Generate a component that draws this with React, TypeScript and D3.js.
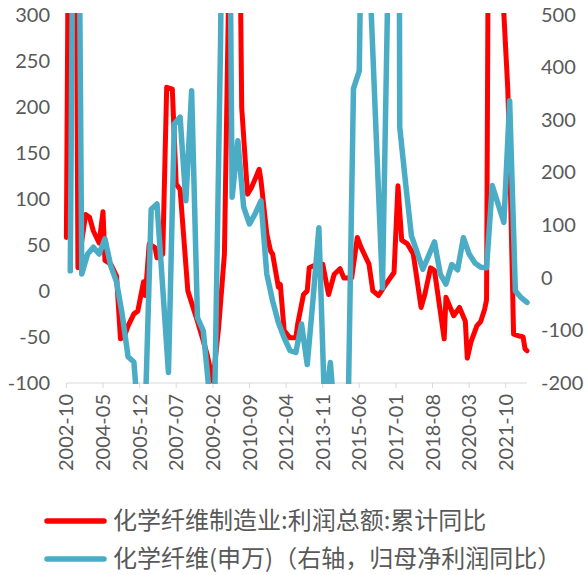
import React from 'react';
import * as d3 from 'd3';

// 化学纤维制造业:利润总额:累计同比 (left axis, %)
const redMonths = [
  '2002-10', '2002-11', '2003-03', '2003-04', '2003-08', '2003-10', '2003-12', '2004-03', '2004-05', '2004-06',
  '2004-09', '2004-12', '2005-02', '2005-04', '2005-06', '2005-09', '2005-11', '2006-02', '2006-03', '2006-05',
  '2006-08', '2006-09', '2006-12', '2007-02', '2007-05', '2007-07', '2007-09', '2008-01', '2008-06', '2008-08',
  '2008-11', '2009-02', '2009-05', '2009-08', '2009-10', '2009-11', '2010-03', '2010-05', '2010-08', '2010-10',
  '2011-02', '2011-03', '2011-06', '2011-08', '2011-09', '2011-12', '2012-01', '2012-03', '2012-06', '2012-09',
  '2012-10', '2013-01', '2013-03', '2013-04', '2013-06', '2013-11', '2014-02', '2014-05', '2014-08', '2014-10',
  '2015-02', '2015-05', '2015-07', '2015-11', '2016-01', '2016-04', '2016-08', '2016-12', '2017-02', '2017-04',
  '2017-07', '2017-10', '2018-02', '2018-04', '2018-07', '2018-09', '2019-02', '2019-03', '2019-07', '2019-10',
  '2020-01', '2020-02', '2020-04', '2020-07', '2020-09', '2020-11', '2020-12', '2021-02', '2021-07', '2021-09',
  '2021-11', '2021-12', '2022-02', '2022-05', '2022-07', '2022-08', '2022-09',
];
const redValues = [
  58, 400, 450, 25, 83, 80, 65, 52, 86, 33,
  29, 16, -52, -50, -38, -25, -22, 10, -5, 51,
  47, 36, 40, 221, 219, 116, 110, 0, -33, -47,
  -69, -98, -40, 40, 300, 450, 600, 199, 105, 112,
  132, 120, 62, 43, 40, 4, 7, -43, -51, -51,
  -36, -4, 0, 25, 27, 29, -4, 18, 24, 14,
  14, 58, 47, 29, 0, -5, 8, 20, 114, 55,
  51, 40, -18, -4, 25, 22, -52, -7, -27, -18,
  -33, -73, -55, -38, -33, -20, -10, 900, 600, 300,
  220, 150, -47, -49, -50, -63, -65,
];

// 化学纤维(申万) 归母净利润同比 (right axis, %)
const blueMonths = [
  '2002-12', '2003-03', '2003-06', '2003-09', '2003-12', '2004-03', '2004-06', '2004-09', '2004-12', '2005-03',
  '2005-06', '2005-09', '2005-12', '2006-03', '2006-06', '2006-09', '2006-12', '2007-03', '2007-06', '2007-09',
  '2007-12', '2008-03', '2008-06', '2008-09', '2008-12', '2009-03', '2009-06', '2009-09', '2009-12', '2010-03',
  '2010-06', '2010-09', '2010-12', '2011-03', '2011-06', '2011-09', '2011-12', '2012-03', '2012-06', '2012-09',
  '2012-12', '2013-03', '2013-06', '2013-09', '2013-12', '2014-03', '2014-06', '2014-09', '2014-12', '2015-03',
  '2015-06', '2015-09', '2015-12', '2016-03', '2016-06', '2016-09', '2016-12', '2017-03', '2017-06', '2017-09',
  '2017-12', '2018-03', '2018-06', '2018-09', '2018-12', '2019-03', '2019-06', '2019-09', '2019-12', '2020-03',
  '2020-06', '2020-09', '2020-12', '2021-03', '2021-06', '2021-09', '2021-12', '2022-03', '2022-06', '2022-09',
];
const blueValues = [
  13, 1500, 7, 45, 58, 45, 74, 22, -8, -70,
  -150, -160, -300, -250, 130, 140, -20, -180, 292, 305,
  146, 355, -76, -101, -215, -230, 450, 1500, 153, 260,
  134, 102, 122, 146, 7, -44, -85, -114, -138, -142,
  -88, -165, -40, 95, -250, -161, -300, -300, -300, 359,
  393, 1200, 520, 250, -19, 600, 5000, 286, 180, 80,
  48, 16, 42, 68, 7, -12, 25, 15, 76, 45,
  28, 20, 19, 175, 140, 105, 336, -25, -38, -47,
];

const xTickLabels = [
  '2002-10', '2004-05', '2005-12', '2007-07', '2009-02', '2010-09', '2012-04',
  '2013-11', '2015-06', '2017-01', '2018-08', '2020-03', '2021-10',
];
const leftTicks = [-100, -50, 0, 50, 100, 150, 200, 250, 300];
const rightTicks = [-200, -100, 0, 100, 200, 300, 400, 500];

const legendLabels = [
  '化学纤维制造业:利润总额:累计同比',
  '化学纤维(申万)（右轴，归母净利润同比）',
];

const RED = '#ff0000';
const BLUE = '#4bacc6';
const TEXT = '#595959';

const W = 588;
const H = 575;
const plot = {left: 66.4, right: 527, top: 14.5, bottom: 383};

const parseMonth = d3.utcParse('%Y-%m');

type Pt = {date: Date; value: number};

const toPoints = (months: string[], values: number[]): Pt[] =>
  months.map((m, i) => ({date: parseMonth(m) as Date, value: values[i]}));

export default function App() {
  const x = d3
    .scaleUtc()
    .domain([parseMonth('2002-10') as Date, parseMonth('2022-09') as Date])
    .range([plot.left, plot.right]);
  const yLeft = d3.scaleLinear().domain([-100, 300]).range([plot.bottom, plot.top]);
  const yRight = d3.scaleLinear().domain([-200, 500]).range([plot.bottom, plot.top]);

  const redLine = d3
    .line<Pt>()
    .x(d => x(d.date))
    .y(d => yLeft(d.value));
  const blueLine = d3
    .line<Pt>()
    .x(d => x(d.date))
    .y(d => yRight(d.value));

  const redPts = toPoints(redMonths, redValues);
  const bluePts = toPoints(blueMonths, blueValues);

  const labelFont = 'Lato, "Open Sans", sans-serif';
  const cjkFont = '"Noto Sans CJK SC", "Noto Sans", sans-serif';

  return (
    <svg
      width={W}
      height={H}
      style={{position: 'absolute', left: 0, top: 0, background: '#fff'}}>
      <defs>
        <clipPath id="plot-clip">
          <rect x={0} y={plot.top - 1.5} width={W} height={plot.bottom - plot.top + 2.5} />
        </clipPath>
      </defs>

      {/* x axis */}
      <line
        x1={plot.left}
        x2={plot.right}
        y1={plot.bottom}
        y2={plot.bottom}
        stroke="#d9d9d9"
        strokeWidth={1}
      />
      {xTickLabels.map(t => {
        const tx = x(parseMonth(t) as Date);
        return (
          <g key={t}>
            <line x1={tx} x2={tx} y1={plot.bottom} y2={plot.bottom + 5} stroke="#d9d9d9" />
            <text
              transform={`translate(${tx}, ${plot.bottom + 11}) rotate(-90)`}
              textAnchor="end"
              dy="0.35em"
              fontFamily={labelFont}
              fontSize={20}
              fill={TEXT}>
              {t}
            </text>
          </g>
        );
      })}

      {/* left axis labels */}
      {leftTicks.map(v => (
        <text
          key={`l${v}`}
          x={50}
          y={yLeft(v)}
          dy="0.35em"
          textAnchor="end"
          fontFamily={labelFont}
          fontSize={20}
          fill={TEXT}>
          {v}
        </text>
      ))}

      {/* right axis labels */}
      {rightTicks.map(v => (
        <text
          key={`r${v}`}
          x={541}
          y={yRight(v)}
          dy="0.35em"
          textAnchor="start"
          fontFamily={labelFont}
          fontSize={20}
          fill={TEXT}>
          {v}
        </text>
      ))}

      <g clipPath="url(#plot-clip)">
        <path
          d={redLine(redPts) || ''}
          fill="none"
          stroke={RED}
          strokeWidth={5}
          strokeLinejoin="round"
          strokeLinecap="round"
        />
        <path
          d={blueLine(bluePts) || ''}
          fill="none"
          stroke={BLUE}
          strokeWidth={5.5}
          strokeLinejoin="round"
          strokeLinecap="round"
        />
      </g>

      {/* legend */}
      {[RED, BLUE].map((c, i) => {
        const ly = 521 + i * 38;
        return (
          <g key={c}>
            <line x1={47} x2={104} y1={ly} y2={ly} stroke={c} strokeWidth={5.5} strokeLinecap="round" />
            <text
              x={113}
              y={ly}
              dy="0.35em"
              fontFamily={cjkFont}
              fontSize={24}
              fill={TEXT}>
              {legendLabels[i]}
            </text>
          </g>
        );
      })}
    </svg>
  );
}
